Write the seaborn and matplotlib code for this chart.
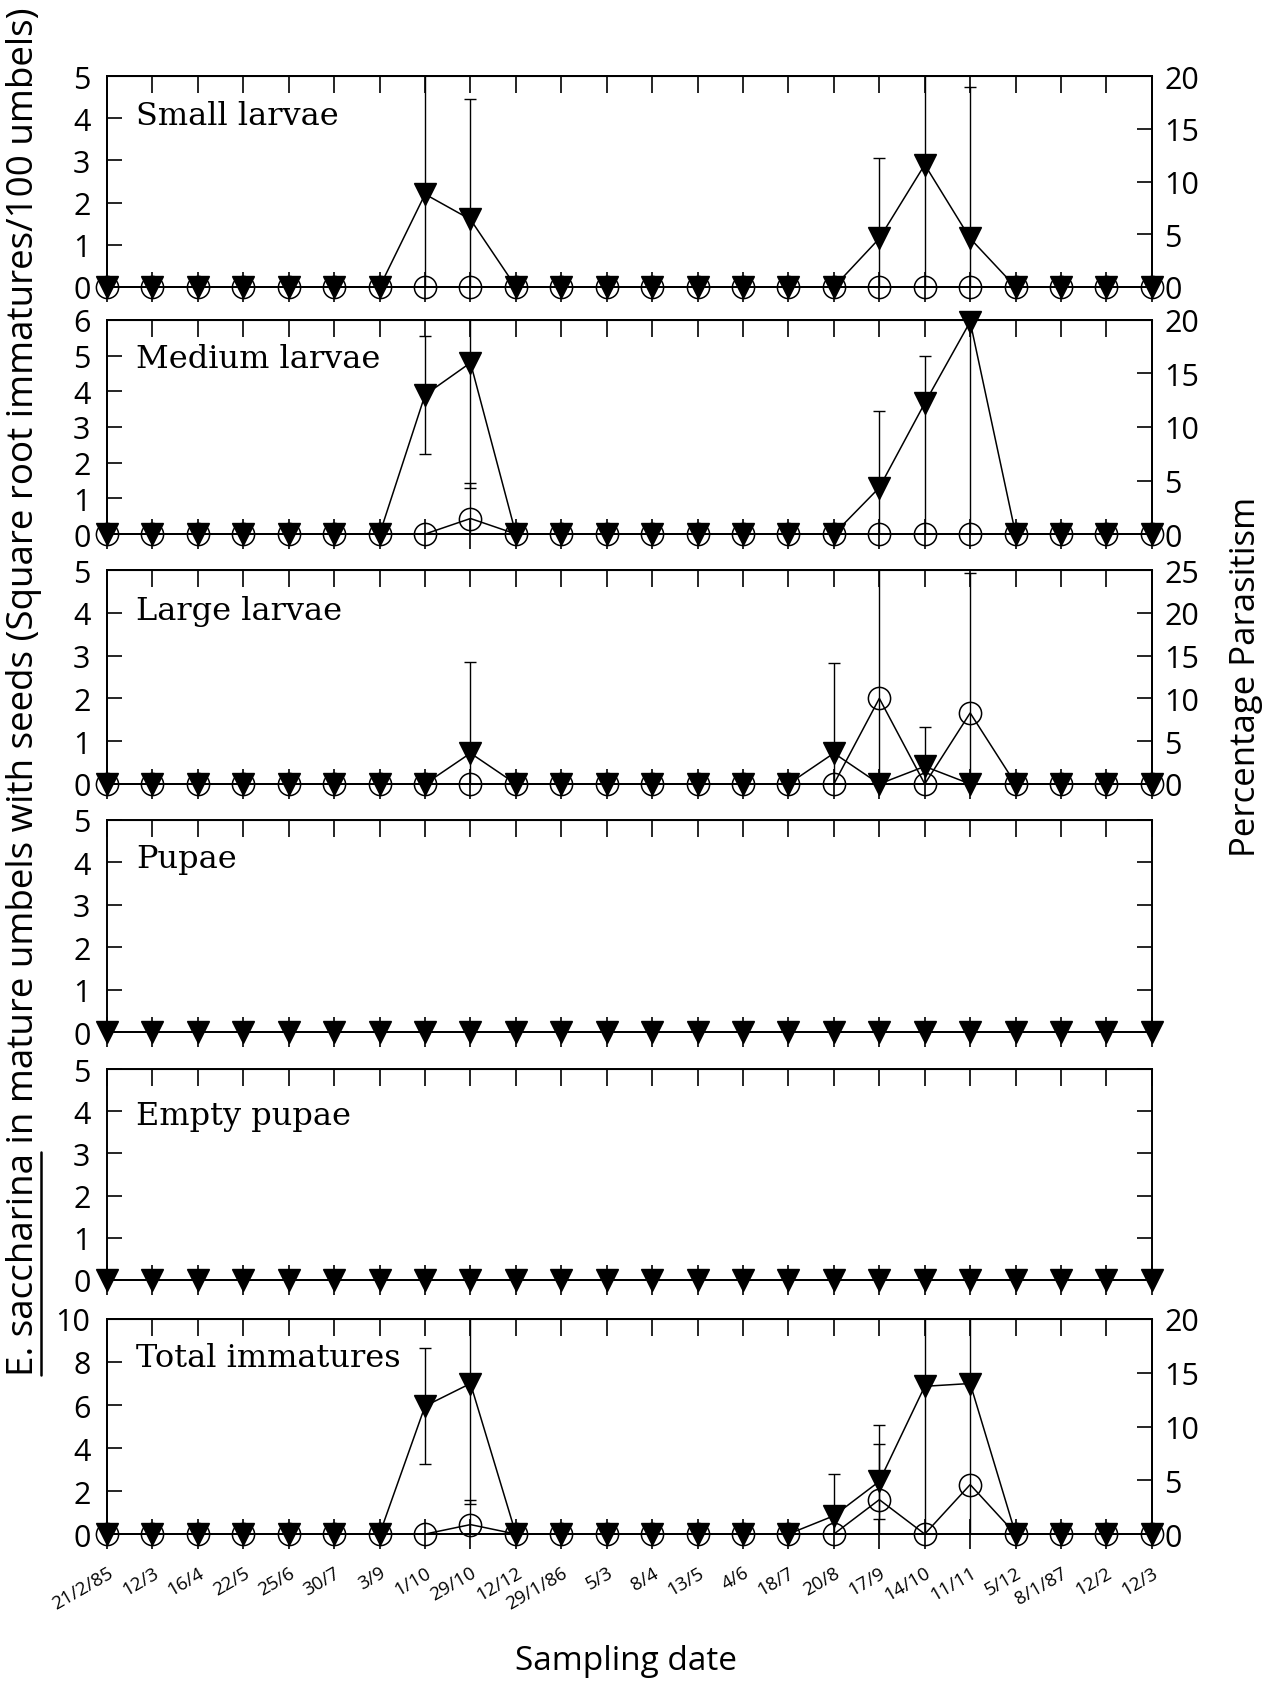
import numpy as np
import pandas as pd
import matplotlib
matplotlib.use("Agg")
import matplotlib.pyplot as plt
import seaborn as sns
from matplotlib.lines import Line2D

# ---------------- data ----------------
dates = ["21/2/85", "12/3", "16/4", "22/5", "25/6", "30/7", "3/9", "1/10", "29/10",
         "12/12", "29/1/86", "5/3", "8/4", "13/5", "4/6", "18/7", "20/8", "17/9",
         "14/10", "11/11", "5/12", "8/1/87", "12/2", "12/3"]

# Small larvae
small_imm = [0]*7 + [2.2, 1.6] + [0]*8 + [1.15, 2.9, 1.15] + [0]*4
small_imm_lo = [0]*7 + [2.2, 1.6] + [0]*8 + [1.15, 2.9, 1.15] + [0]*4
small_imm_hi = [0]*7 + [3.2, 2.85] + [0]*8 + [1.9, 2.5, 3.6] + [0]*4
small_par = [0]*24
small_par_lo = [0]*24
small_par_hi = [0]*24

# Medium larvae
med_imm = [0]*7 + [3.9, 4.8] + [0]*8 + [1.3, 3.67, 5.95] + [0]*4
med_imm_lo = [0]*7 + [1.65, 3.5] + [0]*8 + [1.3, 3.67, 5.95] + [0]*4
med_imm_hi = [0]*7 + [1.65, 3.5] + [0]*8 + [2.15, 1.33, 1.0] + [0]*4
med_par = [0]*8 + [1.45] + [0]*15
med_par_lo = [0]*8 + [1.45] + [0]*15
med_par_hi = [0]*8 + [3.35] + [0]*15

# Large larvae
large_imm = [0]*8 + [0.72] + [0]*7 + [0.72, 0, 0.41] + [0]*5
large_imm_lo = [0]*8 + [0.72] + [0]*7 + [0.72, 0, 0.41] + [0]*5
large_imm_hi = [0]*8 + [2.13] + [0]*7 + [2.11, 0, 0.91] + [0]*5
large_par = [0]*17 + [10.0, 0, 8.3] + [0]*4
large_par_lo = [0]*17 + [10.0, 0, 8.3] + [0]*4
large_par_hi = [0]*17 + [16.0, 0, 16.4] + [0]*4

# Pupae / Empty pupae
pupae_imm = [0]*24
empty_imm = [0]*24

# Total immatures
tot_imm = [0]*7 + [5.95, 7.0] + [0]*7 + [0.85, 2.45, 6.87, 7.0] + [0]*4
tot_imm_lo = [0]*7 + [2.7, 5.62] + [0]*7 + [0.85, 2.45, 6.87, 7.0] + [0]*4
tot_imm_hi = [0]*7 + [2.7, 5.62] + [0]*7 + [1.95, 2.64, 4.0, 4.0] + [0]*4
tot_par = [0]*8 + [0.88] + [0]*8 + [3.2, 0, 4.6] + [0]*4
tot_par_lo = [0]*8 + [0.88] + [0]*8 + [1.8, 0, 0] + [0]*4
tot_par_hi = [0]*8 + [2.28] + [0]*8 + [5.2, 0, 0] + [0]*4

panel_names = ["Small larvae", "Medium larvae", "Large larvae", "Pupae",
               "Empty pupae", "Total immatures"]
left_max = [5, 6, 5, 5, 5, 10]
left_ticks = [[0, 1, 2, 3, 4, 5], [0, 1, 2, 3, 4, 5, 6], [0, 1, 2, 3, 4, 5],
              [0, 1, 2, 3, 4, 5], [0, 1, 2, 3, 4, 5], [0, 2, 4, 6, 8, 10]]
right_max = [20, 20, 25, None, None, 20]
right_ticks = [[0, 5, 10, 15, 20], [0, 5, 10, 15, 20], [0, 5, 10, 15, 20, 25],
               None, None, [0, 5, 10, 15, 20]]

imm_series = [small_imm, med_imm, large_imm, pupae_imm, empty_imm, tot_imm]
imm_lo = [small_imm_lo, med_imm_lo, large_imm_lo, None, None, tot_imm_lo]
imm_hi = [small_imm_hi, med_imm_hi, large_imm_hi, None, None, tot_imm_hi]
par_series = [small_par, med_par, large_par, None, None, tot_par]
par_lo = [small_par_lo, med_par_lo, large_par_lo, None, None, tot_par_lo]
par_hi = [small_par_hi, med_par_hi, large_par_hi, None, None, tot_par_hi]

ylabel_text = "E. saccharina in mature umbels with seeds (Square root immatures/100 umbels)"
underlined_part = "E. saccharina"
right_label = "Percentage Parasitism"
xlabel_text = "Sampling date"

# ---------------- style ----------------
sns.set_style("ticks", rc={"axes.edgecolor": "black", "text.color": "black",
                           "xtick.color": "black", "ytick.color": "black",
                           "axes.labelcolor": "black", "axes.linewidth": 1.4})
plt.rcParams["font.family"] = ["Open Sans", "DejaVu Sans"]

fig = plt.figure(figsize=(12.7, 16.83), dpi=100)
L, R = 0.0843, 0.907
tops = [0.9542, 0.8093, 0.6607, 0.5122, 0.3642, 0.2157]
bots = [0.8289, 0.6821, 0.5336, 0.3862, 0.2389, 0.0879]
label_ys = [0.815, 0.818, 0.81, 0.816, 0.78, 0.823]

x = np.arange(len(dates))
TICK_FS = 22
MS = 16
LW = 1.1

for i in range(6):
    ax = fig.add_axes([L, bots[i], R - L, tops[i] - bots[i]])
    df = pd.DataFrame({"x": x, "imm": imm_series[i]})

    if par_series[i] is not None:
        ax2 = ax.twinx()
        dfp = pd.DataFrame({"x": x, "par": par_series[i]})
        lo = np.array(par_lo[i]); hi = np.array(par_hi[i])
        m = (lo > 0) | (hi > 0)
        if m.any():
            ax2.errorbar(x[m], np.array(par_series[i])[m], yerr=[lo[m], hi[m]],
                         fmt="none", ecolor="black", elinewidth=1.0, capsize=4,
                         capthick=1.0)
        sns.lineplot(data=dfp, x="x", y="par", ax=ax2, color="black", marker="o",
                     markersize=MS, markerfacecolor="none", markeredgecolor="black",
                     markeredgewidth=1.1, lw=LW, estimator=None, errorbar=None,
                     clip_on=False)
        ax2.set_ylim(0, right_max[i])
        ax2.set_yticks(right_ticks[i])
        ax2.set_ylabel("")
        ax2.tick_params(axis="y", direction="in", length=11, width=1.2,
                        labelsize=TICK_FS, pad=9)
        for s in ax2.spines.values():
            s.set_linewidth(1.4)
        ax.set_zorder(ax2.get_zorder() + 1)
        ax.patch.set_visible(False)

    lo = imm_lo[i]; hi = imm_hi[i]
    if lo is not None:
        lo = np.array(lo); hi = np.array(hi)
        m = (lo > 0) | (hi > 0)
        ax.errorbar(x[m], np.array(imm_series[i])[m], yerr=[lo[m], hi[m]],
                    fmt="none", ecolor="black", elinewidth=1.0, capsize=4,
                    capthick=1.0)
    sns.lineplot(data=df, x="x", y="imm", ax=ax, color="black", marker="v",
                 markersize=MS, markerfacecolor="black", markeredgecolor="black",
                 markeredgewidth=1.0, lw=LW, estimator=None, errorbar=None,
                 clip_on=False)

    ax.set_xlim(0, len(dates) - 1)
    ax.set_ylim(0, left_max[i])
    ax.set_yticks(left_ticks[i])
    ax.set_xlabel("")
    ax.set_ylabel("")
    ax.set_xticks(x)
    ax.tick_params(axis="x", direction="inout", length=22, width=1.2,
                   bottom=True, top=False, labelbottom=(i == 5), pad=10)
    right_ticks_on = par_series[i] is None
    ax.tick_params(axis="y", direction="in", length=11, width=1.2,
                   labelsize=TICK_FS, pad=12, left=True, right=right_ticks_on,
                   labelright=False)
    for s in ax.spines.values():
        s.set_linewidth(1.4)
        s.set_visible(True)

    sec = ax.secondary_xaxis("top")
    sec.set_xticks(x)
    sec.tick_params(axis="x", direction="in", length=12, width=1.2, labeltop=False)

    ax.text(0.028, label_ys[i], panel_names[i], transform=ax.transAxes,
            family=["DejaVu Serif"], fontsize=23, ha="left", va="center")

    if i == 5:
        ax.set_xticklabels(dates, rotation=30, ha="right", va="top",
                           rotation_mode="anchor", fontsize=13.5)

# axis titles
fig.text(0.493, 0.0125, xlabel_text, ha="center", va="center", fontsize=24)
fig.text(0.981, 0.598, right_label, rotation=90, ha="center", va="center",
         fontsize=25)
ylab = fig.text(0.019, 0.589, ylabel_text, rotation=90, ha="center", va="center",
                fontsize=26.5)

fig.canvas.draw()
rend = fig.canvas.get_renderer()
bb = ylab.get_window_extent(rend)
tmp = fig.text(0, 0, underlined_part, rotation=90, fontsize=26.5)
bb2 = tmp.get_window_extent(rend)
tmp.remove()
W, H = fig.bbox.width, fig.bbox.height
xu = (bb.x1 - 1) / W
fig.add_artist(Line2D([xu, xu], [bb.y0 / H, (bb.y0 + bb2.height) / H],
                      transform=fig.transFigure, color="black", lw=1.8))

fig.savefig("out.png", dpi=100)
